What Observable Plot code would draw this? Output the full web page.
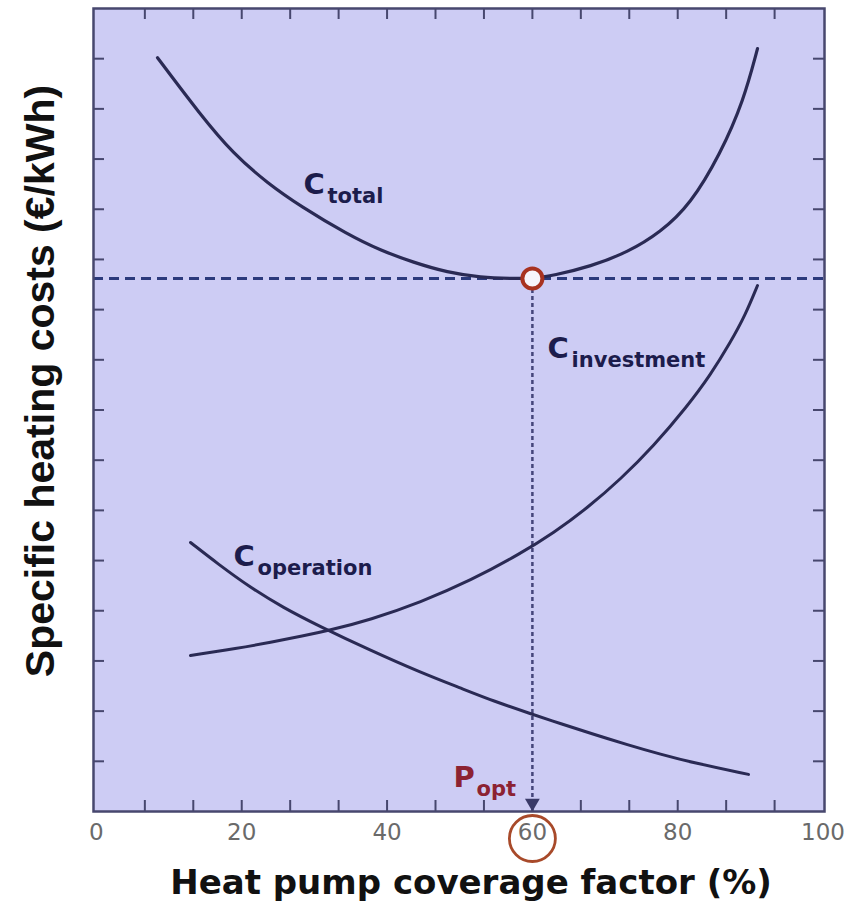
<!DOCTYPE html>
<html>
<head>
<meta charset="utf-8">
<script src="https://cdn.jsdelivr.net/npm/d3@7"></script>
<script src="https://cdn.jsdelivr.net/npm/@observablehq/plot@0.6"></script>
<style>body{margin:0;background:#fff}</style>
</head>
<body>
<div id="chart"></div>
<script>
// ---- data ----
const coverageTotal = [8.41, 14.33, 18.87, 23.55, 28.09, 34.56, 39.10, 43.64, 48.32, 52.86, 57.40, 60.00, 62.91, 68.01, 73.09, 77.63, 81.77, 85.89, 89.06, 90.98];
const costTotal     = [15.02, 13.88, 13.10, 12.52, 12.06, 11.50, 11.18, 10.94, 10.74, 10.64, 10.62, 10.62, 10.68, 10.86, 11.14, 11.54, 12.10, 13.11, 14.16, 15.20];

const coverageInvestment = [12.95, 19.42, 23.97, 28.50, 31.80, 37.72, 44.61, 51.49, 58.37, 62.91, 67.59, 72.13, 76.67, 81.35, 84.51, 87.27, 89.33, 90.98];
const costInvestment     = [3.11, 3.25, 3.37, 3.50, 3.60, 3.82, 4.17, 4.60, 5.14, 5.55, 6.05, 6.62, 7.28, 8.08, 8.70, 9.35, 9.90, 10.48];

const coverageOperation = [12.95, 16.67, 21.21, 25.75, 30.43, 37.72, 44.61, 50.11, 54.65, 59.74, 63.88, 68.42, 73.09, 77.63, 82.17, 89.74];
const costOperation     = [5.36, 4.94, 4.46, 4.06, 3.71, 3.21, 2.77, 2.46, 2.20, 1.95, 1.75, 1.54, 1.33, 1.14, 0.97, 0.74];

const optCoverage = 60;
const optCost = 10.62;

const xTickLabels = [0, 20, 40, 60, 80, 100];
const xMinorTicks = [6.667, 13.333, 20, 26.667, 33.333, 40, 46.667, 53.333, 60, 66.667, 73.333, 80, 86.667, 93.333];
const yMinorTicks = [1, 2, 3, 4, 5, 6, 7, 8, 9, 10, 11, 12, 13, 14, 15];

const curveLabelSub = ["total", "investment", "operation"];
const curveLabelX = [28.5, 62.09, 18.87];
const curveLabelY = [12.31, 9.03, 4.90];
const optLabelX = [49.15];
const optLabelY = [0.48];

const xTitle = "Heat pump coverage factor (%)";
const yTitle = "Specific heating costs (€/kWh)";

// ---- tables ----
const total = coverageTotal.map((x, i) => ({x, y: costTotal[i]}));
const investment = coverageInvestment.map((x, i) => ({x, y: costInvestment[i]}));
const operation = coverageOperation.map((x, i) => ({x, y: costOperation[i]}));
const optPoint = [{x: optCoverage, y: optCost}];
const optFoot = [{x: optCoverage, y: 0}];

const frameColor = "#47476e";
const curveColor = "#2a2a54";
const labelColor = "#1c1c4c";
const optColor = "#8c2232";

const chart = Plot.plot({
  width: 848,
  height: 908,
  marginTop: 8,
  marginBottom: 97,
  marginLeft: 93,
  marginRight: 24,
  x: {domain: [-0.4, 100.2], axis: null},
  y: {domain: [0, 16], axis: null},
  style: {background: "#fff", fontFamily: "'DejaVu Sans', sans-serif"},
  marks: [
    Plot.frame({fill: "#cdccf4", stroke: null}),
    // inward ticks
    Plot.tickX(xMinorTicks, {x: d => d, insetTop: 792, stroke: frameColor, strokeWidth: 2}),
    Plot.tickX(xMinorTicks, {x: d => d, insetBottom: 792, stroke: frameColor, strokeWidth: 2}),
    Plot.tickY(yMinorTicks, {y: d => d, insetRight: 720, stroke: frameColor, strokeWidth: 2}),
    Plot.tickY(yMinorTicks, {y: d => d, insetLeft: 720, stroke: frameColor, strokeWidth: 2}),
    // optimum guides
    Plot.ruleY([optCost], {stroke: "#2c3a7c", strokeWidth: 3, strokeDasharray: "10,6"}),
    Plot.ruleX([optCoverage], {y1: 0, y2: optCost, stroke: "#45457a", strokeWidth: 2.5, strokeDasharray: "4,3"}),
    Plot.dot(optFoot, {x: "x", y: "y", symbol: "triangle", rotate: 180, r: 5.5, fill: "#3a3a68", stroke: null, dy: -8.5}),
    // curves
    Plot.line(operation, {x: "x", y: "y", curve: "basis", stroke: curveColor, strokeWidth: 3}),
    Plot.line(investment, {x: "x", y: "y", curve: "basis", stroke: curveColor, strokeWidth: 3}),
    Plot.line(total, {x: "x", y: "y", curve: "basis", stroke: curveColor, strokeWidth: 3.2}),
    Plot.dot(optPoint, {x: "x", y: "y", r: 10, stroke: "#a83220", strokeWidth: 4, fill: "#f6f4fb"}),
    Plot.frame({stroke: frameColor, strokeWidth: 2.5}),
    // curve labels
    Plot.text(curveLabelSub, {x: curveLabelX, y: curveLabelY, text: () => "C", textAnchor: "start", lineAnchor: "bottom", fontSize: 29, fontWeight: "bold", fill: labelColor}),
    Plot.text(curveLabelSub, {x: curveLabelX, y: curveLabelY, text: d => d, textAnchor: "start", lineAnchor: "bottom", dx: 24, dy: 9, fontSize: 21, fontWeight: "bold", fill: labelColor}),
    Plot.text(optLabelX, {x: optLabelX, y: optLabelY, text: () => "P", textAnchor: "start", lineAnchor: "bottom", fontSize: 29, fontWeight: "bold", fill: optColor}),
    Plot.text(optLabelX, {x: optLabelX, y: optLabelY, text: () => "opt", textAnchor: "start", lineAnchor: "bottom", dx: 23, dy: 9, fontSize: 21, fontWeight: "bold", fill: optColor}),
    // x tick labels
    Plot.text(xTickLabels, {x: d => d, text: d => String(d), frameAnchor: "bottom", dy: 28, fontSize: 23, fill: "#6a6a6a"}),
    Plot.dot([optCoverage], {x: d => d, frameAnchor: "bottom", dy: 27, r: 23, stroke: "#a84a2a", strokeWidth: 2.8, fill: "none"}),
    // axis titles
    Plot.text([xTitle], {text: d => d, frameAnchor: "bottom", dx: 12, dy: 82, lineAnchor: "bottom", fontSize: 34, fontWeight: "bold", fill: "#111"}),
    Plot.text([yTitle], {text: d => d, frameAnchor: "left", rotate: -90, dx: -40, dy: -29, textAnchor: "middle", lineAnchor: "bottom", fontSize: 41, fontWeight: "bold", fontFamily: "'Liberation Sans', Arial, sans-serif", fill: "#111", ariaLabel: "ylabel"})
  ]
});

// colour the euro sign in the y title
const yl = chart.querySelector('g[aria-label="ylabel"] text');
if (yl) {
  const s = yl.textContent;
  const i = s.indexOf("€");
  if (i >= 0) {
    const ns = "http://www.w3.org/2000/svg";
    yl.textContent = "";
    const a = document.createElementNS(ns, "tspan"); a.textContent = s.slice(0, i);
    const b = document.createElementNS(ns, "tspan"); b.textContent = "€"; b.setAttribute("fill", "#2f62c0"); b.setAttribute("font-weight", "normal");
    const c = document.createElementNS(ns, "tspan"); c.textContent = s.slice(i + 1);
    yl.append(a, b, c);
  }
}

document.getElementById("chart").append(chart);
</script>
</body>
</html>
